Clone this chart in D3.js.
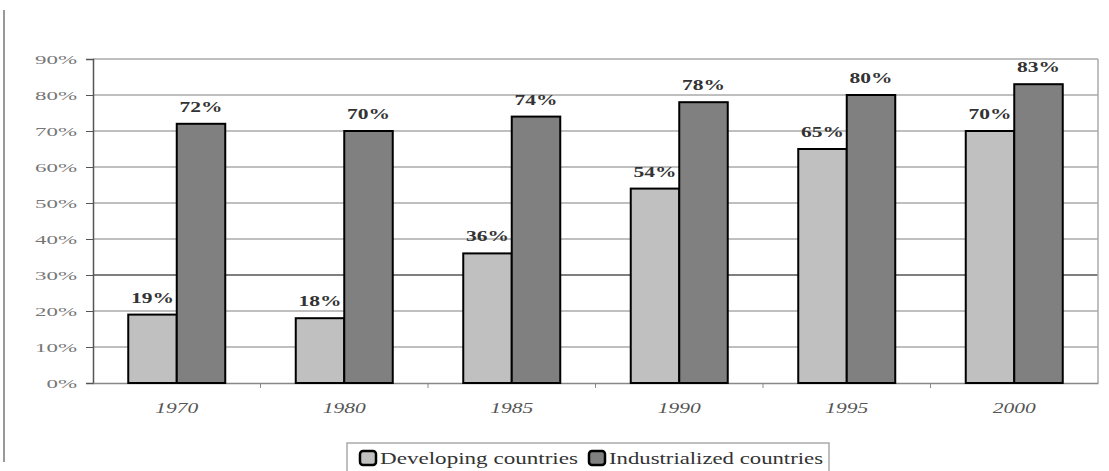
<!DOCTYPE html>
<html>
<head>
<meta charset="utf-8">
<script src="https://cdn.jsdelivr.net/npm/d3@7"></script>
<style>
  body { margin: 0; background: #fff; }
  svg { display: block; }
  text { font-family: "Liberation Serif", "Times New Roman", Times, "DejaVu Serif", serif; }
</style>
</head>
<body>
<svg></svg>
<script>
// data
let years = ["1970", "1980", "1985", "1990", "1995", "2000"];
let developing = [19, 18, 36, 54, 65, 70];
let industrialized = [72, 70, 74, 78, 80, 83];
let seriesNames = ["Developing countries", "Industrialized countries"];
let yTicks = [0, 10, 20, 30, 40, 50, 60, 70, 80, 90];

let svgWidth = 1109;
let svgHeight = 471;
let serif = "'Liberation Serif', 'Times New Roman', Times, 'DejaVu Serif', serif";

let svg = d3.select("svg")
	.attr("width", svgWidth)
	.attr("height", svgHeight);

let plotLeft = 93, plotRight = 1098, plotTop = 59, plotBottom = 383;

let xScale = d3.scaleBand()
	.domain(years)
	.range([plotLeft, plotRight]);

let yScale = d3.scaleLinear()
	.domain([0, 90])
	.range([plotBottom, plotTop]);

let barWidth = 48.5;

// the picture is stretched sideways, so text is widened too:
// one element of the selection is brought to a given width, the rest follow by the same factor
function stretch(sel, sampleWidth, target) {
	let factor = target / sampleWidth;
	sel.each(function() {
		let w = this.getComputedTextLength();
		d3.select(this)
			.attr("textLength", w * factor)
			.attr("lengthAdjust", "spacingAndGlyphs");
	});
}
function widthOf(sel) {
	return sel.node().getComputedTextLength();
}

// page border at left
svg.append("line")
	.attr("x1", 4).attr("x2", 4)
	.attr("y1", 10).attr("y2", 462)
	.attr("stroke", "#777").attr("stroke-width", 1.5);

// gridlines
svg.selectAll(".grid")
	.data(yTicks.filter(d => d > 0))
	.enter()
	.append("line")
	.attr("x1", plotLeft).attr("x2", plotRight)
	.attr("y1", d => yScale(d)).attr("y2", d => yScale(d))
	.attr("stroke", d => d == 30 ? "#555" : "#aaa")
	.attr("stroke-width", 1.5);

// plot border (right side)
svg.append("line")
	.attr("x1", plotRight).attr("x2", plotRight)
	.attr("y1", plotTop).attr("y2", plotBottom)
	.attr("stroke", "#aaa").attr("stroke-width", 1.5);

// y axis
let yAxis = d3.axisLeft(yScale)
	.tickValues(yTicks)
	.tickSize(7)
	.tickFormat(d => d + "%");

let gy = svg.append("g")
	.attr("transform", "translate(" + plotLeft + ",0)")
	.call(yAxis);
gy.attr("font-family", serif);
gy.select(".domain").attr("stroke", "#555").attr("stroke-width", 1.5);
gy.selectAll(".tick line").attr("stroke", "#555");
let yText = gy.selectAll("text")
	.style("font-family", serif)
	.attr("font-size", 13)
	.attr("fill", "#777")
	.attr("x", -16);
stretch(yText, widthOf(yText.filter(d => d == 90)), 42);

// x axis
let xAxis = d3.axisBottom(xScale).tickSize(0);
let gx = svg.append("g")
	.attr("transform", "translate(0," + plotBottom + ")")
	.call(xAxis);
gx.attr("font-family", serif);
gx.select(".domain").attr("stroke", "#888").attr("stroke-width", 1.5);
let xText = gx.selectAll("text")
	.style("font-family", serif)
	.attr("font-style", "italic")
	.attr("font-size", 14)
	.attr("fill", "#555")
	.attr("y", 30)
	.attr("dy", 0);
stretch(xText, widthOf(xText), 43);

// small tick marks between categories
svg.selectAll(".xtick")
	.data(years.slice(1))
	.enter()
	.append("line")
	.attr("x1", d => xScale(d)).attr("x2", d => xScale(d))
	.attr("y1", plotBottom).attr("y2", plotBottom + 5)
	.attr("stroke", "#888");

// bars
let groupData = years.map(function(y, i) {
	return { year: y, values: [developing[i], industrialized[i]] };
});

let colors = ["#c0c0c0", "#808080"];

let groups = svg.selectAll(".group")
	.data(groupData)
	.enter()
	.append("g")
	.attr("transform", d => "translate(" + (xScale(d.year) + xScale.bandwidth() / 2) + ",0)");

groups.selectAll("rect")
	.data(d => d.values)
	.enter()
	.append("rect")
	.attr("x", (d, i) => i == 0 ? -barWidth : 0)
	.attr("y", d => yScale(d))
	.attr("width", barWidth)
	.attr("height", d => plotBottom - yScale(d))
	.attr("fill", (d, i) => colors[i])
	.attr("stroke", "#000")
	.attr("stroke-width", 2);

// value labels
let labels = groups.selectAll(".lbl")
	.data(d => d.values)
	.enter()
	.append("text")
	.text(d => d + "%")
	.attr("x", (d, i) => i == 0 ? -barWidth / 2 : barWidth / 2)
	.attr("y", d => yScale(d) - 12)
	.attr("text-anchor", "middle")
	.style("font-family", serif)
	.attr("font-weight", "bold")
	.attr("font-size", 15)
	.attr("fill", "#333");
stretch(labels, widthOf(labels), 43);

// legend
let legend = svg.append("g");
legend.append("rect")
	.attr("x", 347).attr("y", 443)
	.attr("width", 482).attr("height", 34)
	.attr("fill", "#fff")
	.attr("stroke", "#aaa")
	.attr("stroke-width", 1.5);

let legendX = [360, 589];
let legendWidths = [198, 214];
seriesNames.forEach(function(name, i) {
	legend.append("rect")
		.attr("x", legendX[i]).attr("y", 451)
		.attr("width", 16).attr("height", 14)
		.attr("rx", 3)
		.attr("fill", colors[i])
		.attr("stroke", "#000")
		.attr("stroke-width", 2.5);
	let t = legend.append("text")
		.text(name)
		.attr("x", legendX[i] + 20)
		.attr("y", 464)
		.style("font-family", serif)
		.attr("font-size", 17)
		.attr("fill", "#333");
	stretch(t, widthOf(t), legendWidths[i]);
});
</script>
</body>
</html>
